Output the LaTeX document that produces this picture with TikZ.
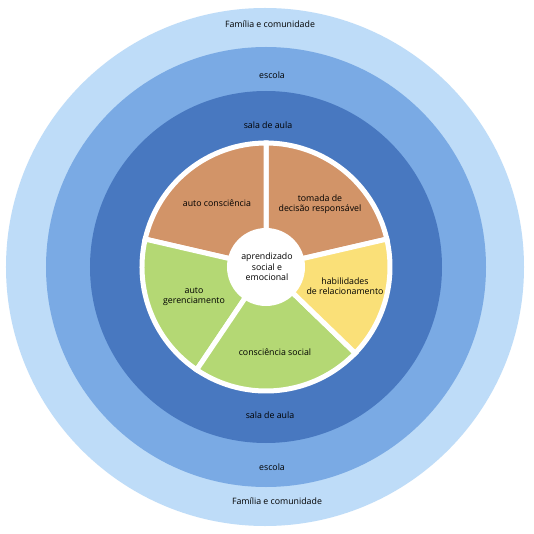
\documentclass[tikz,border=0pt]{standalone}
\usepackage{fontspec}
\setmainfont{Open Sans}
\usepackage{tikz}
\usetikzlibrary{positioning}

\definecolor{familia}{RGB}{190,220,248}
\definecolor{escola}{RGB}{122,170,228}
\definecolor{sala}{RGB}{72,120,192}
\definecolor{laranja}{RGB}{210,148,104}
\definecolor{verde}{RGB}{180,216,116}
\definecolor{amarelo}{RGB}{250,224,120}

\begin{document}
\begin{tikzpicture}[x=0.03cm,y=0.03cm,
  lbl/.style={font=\fontsize{7.5}{8.8}\selectfont,align=center,text=black},
  fatia/.style={draw=white,line width=0.15cm,line join=miter}]
\fill[white] (-266,-266) rectangle (268,267);
\useasboundingbox (-266,-266) rectangle (268,267);
% aneis
\fill[familia] (-1,0) circle (259);
\fill[escola] (0,0) circle (220);
\fill[sala] (0,0) circle (176);
% fatias
\coordinate (O) at (0,0);
\fill[laranja,fatia] (O) -- (13:124) arc (13:90:124) -- cycle;
\fill[laranja,fatia] (O) -- (90:124) arc (90:167:124) -- cycle;
\fill[verde,fatia] (O) -- (167:124) arc (167:236:124) -- cycle;
\fill[verde,fatia] (O) -- (236:124) arc (236:316:124) -- cycle;
\fill[amarelo,fatia] (O) -- (316:124) arc (316:373:124) -- cycle;
\fill[white] (O) circle (39);
% textos
\node[lbl] (famT) at (4,243) {Família e comunidade};
\node[lbl] (famB) at (11,-234) {Família e comunidade};
\node[lbl] (escT) at (6,192) {escola};
\node[lbl] (escB) at (6,-200) {escola};
\node[lbl] (salT) at (2,142) {sala de aula};
\node[lbl] (salB) at (4,-148) {sala de aula};
\node[lbl] (autoc) at (-49,64) {auto consciência};
\node[lbl] (tomada) at (54,63) {tomada de\\decisão responsável};
\node[lbl] (habil) at (79,-19) {habilidades\\de relacionamento};
\node[lbl] (social) at (9,-85) {consciência social};
\node[lbl] (gerenc) at (-72,-30) {auto\\gerenciamento};
\node[lbl] (centro) at (1,0) {aprendizado\\social e\\emocional};
\end{tikzpicture}
\end{document}
